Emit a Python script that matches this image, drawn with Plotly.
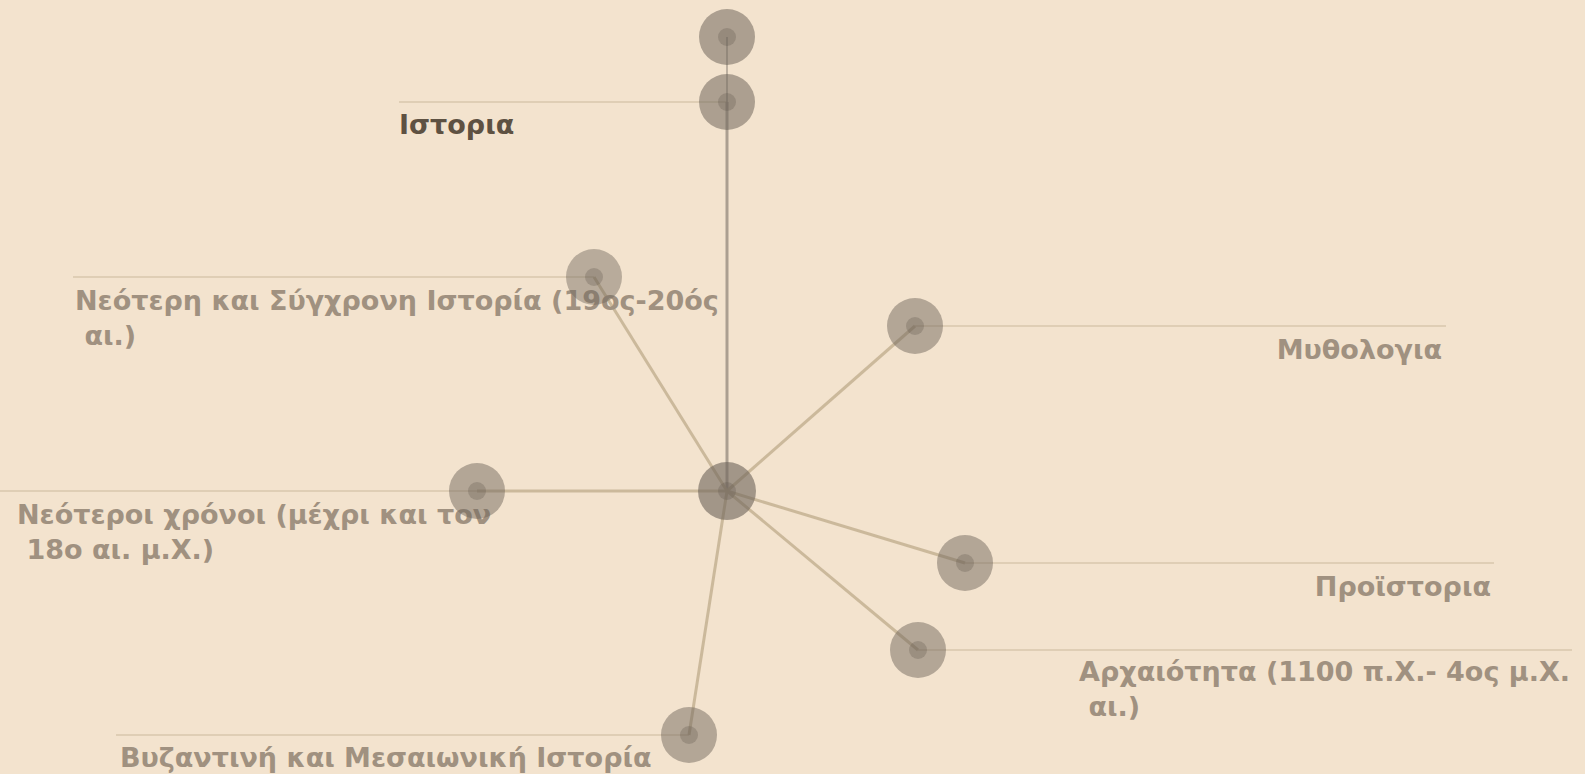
import plotly.graph_objects as go

# Network layout (pixel space of the 1585x774 canvas)
node_names = ["Κέντρο", "Άνω", "Ιστορια",
              "Νεότερη και Σύγχρονη Ιστορία (19ος-20ός<br> αι.)",
              "Μυθολογια",
              "Νεότεροι χρόνοι (μέχρι και τον<br> 18ο αι. μ.Χ.)",
              "Προϊστορια",
              "Αρχαιότητα (1100 π.Χ.- 4ος μ.Χ.<br> αι.)",
              "Βυζαντινή και Μεσαιωνική Ιστορία"]
node_x = [727, 727, 727, 594, 915, 477, 965, 918, 689]
node_y = [491, 37, 102, 277, 326, 491, 563, 650, 735]
node_alpha = [0.88, 0.78, 0.78, 0.64, 0.7, 0.7, 0.7, 0.7, 0.7]
node_size = [58, 56, 56, 56, 56, 56, 56, 56, 56]

edges_src = [0, 0, 0, 0, 0, 0, 0, 2]
edges_dst = [2, 3, 4, 5, 6, 7, 8, 1]

# label leader lines: node index, far end x of the leader
label_nodes = [2, 3, 4, 5, 6, 7, 8]
label_line_end = [399, 73, 1446, 0, 1494, 1572, 116]
label_text_x = [399, 75, 1442, 17, 1491, 1079, 120]
label_text_y = [127, 321, 352, 535, 589, 692, 760]
label_pos = ["middle right", "middle right", "middle left", "middle right",
             "middle left", "middle right", "middle right"]

BG = "#f3e3ce"
FONT = "Verdana, DejaVu Sans, sans-serif"

fig = go.Figure()

# leader lines
for n, xe in zip(label_nodes, label_line_end):
    fig.add_trace(go.Scatter(x=[xe, node_x[n]], y=[node_y[n], node_y[n]], mode="lines",
                             line=dict(color="rgba(214,196,170,0.9)", width=1.5),
                             hoverinfo="skip", showlegend=False))

# edges
for s, d in zip(edges_src, edges_dst):
    vertical = node_x[s] == node_x[d]
    fig.add_trace(go.Scatter(x=[node_x[s], node_x[d]], y=[node_y[s], node_y[d]], mode="lines",
                             line=dict(color="#ab9f91" if vertical else "rgba(198,180,150,0.9)",
                                       width=3 if not (s == 2) else 1.5),
                             hoverinfo="skip", showlegend=False))

# labels (drawn before nodes so nodes overlap them)
for i, n in enumerate(label_nodes):
    txt = node_names[n]
    is_main = (n == 2)
    fig.add_trace(go.Scatter(x=[label_text_x[i]], y=[label_text_y[i]], mode="text",
                             text=[txt], textposition=label_pos[i],
                             textfont=dict(family=FONT, size=27, weight="bold",
                                           color="#5e5142" if is_main else "#a09180"),
                             hoverinfo="skip", showlegend=False))

# nodes
fig.add_trace(go.Scatter(x=node_x, y=node_y, mode="markers",
                         marker=dict(size=node_size,
                                     color=[f"rgba(112,102,92,{a})" for a in node_alpha],
                                     line=dict(width=0)),
                         text=node_names, hoverinfo="text", showlegend=False))
fig.add_trace(go.Scatter(x=node_x, y=node_y, mode="markers",
                         marker=dict(size=18, color="rgba(100,90,80,0.3)", line=dict(width=0)),
                         hoverinfo="skip", showlegend=False))

fig.update_layout(
    width=1585, height=774,
    margin=dict(l=0, r=0, t=0, b=0),
    paper_bgcolor=BG, plot_bgcolor=BG,
    xaxis=dict(range=[0, 1585], visible=False, fixedrange=True),
    yaxis=dict(range=[774, 0], visible=False, fixedrange=True),
)

fig.write_html("out.html", config={"displayModeBar": False},
               post_script="document.body.style.margin='0';document.body.style.background='#f3e3ce';")
